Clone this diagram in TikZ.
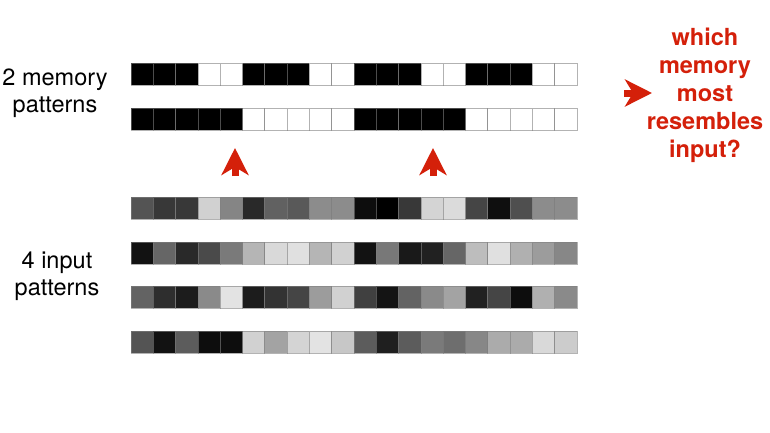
\documentclass[tikz,border=0pt]{standalone}
\usepackage{fontspec}
\setmainfont{TeX Gyre Heros}
\usepackage{xcolor}
\usetikzlibrary{arrows.meta,positioning}

\definecolor{alertred}{RGB}{212,32,10}

% one row of 20 cells, #1 = top edge, #2 = grey levels (0 black, 100 white)
\newcommand{\patternrow}[2]{%
  \foreach \g [count=\i from 0] in {#2}
    \filldraw[cell, fill=white!\g!black] ({131+\i*22.3},#1) rectangle ++(22.3,22);
}

\begin{document}
\begin{tikzpicture}[x=1pt,y=-1pt,
    cell/.style={draw=black!50, draw opacity=0.6, line width=0.8pt},
    sidelabel/.style={font=\fontsize{23.5}{27.5}\selectfont, align=center},
    question/.style={font=\bfseries\fontsize{23.5}{28}\selectfont, align=center, text=alertred},
    pointer/.style={alertred, line width=7, -{Stealth[length=27,width=27,inset=8]}}]
    \useasboundingbox (0,0) rectangle (770,432);

    % memory patterns
    \patternrow{63}{0,0,0,100,100,0,0,0,100,100,0,0,0,100,100,0,0,0,100,100}
    \patternrow{108}{0,0,0,0,0,100,100,100,100,100,0,0,0,0,0,100,100,100,100,100}

    % input patterns
    \patternrow{197}{33,22,22,82,52,16,38,35,55,55,5,0,22,83,86,27,6,31,55,55}
    \patternrow{242}{7,40,16,29,48,71,85,88,71,82,7,47,10,13,40,74,88,69,61,53}
    \patternrow{286}{39,18,11,54,89,11,20,27,61,82,25,8,39,54,64,13,27,5,69,54}
    \patternrow{331}{33,7,36,5,5,82,64,83,89,78,36,12,36,48,43,53,67,67,85,80}

    \node[sidelabel] (memlabel) at (55,93) {2 memory\\patterns};
    \node[sidelabel] (inlabel) at (57,276) {4 input\\patterns};
    \node[question] (query) at (705,95) {which\\memory\\most\\resembles\\input?};

    \coordinate (leftfoot) at (235,176);
    \coordinate (lefttip) at (235,148);
    \coordinate (rightfoot) at (433,176);
    \coordinate (righttip) at (433,148);
    \coordinate (queryfoot) at (624,93);
    \coordinate (querytip) at (652,93);
    \draw[pointer] (leftfoot) -- (lefttip);
    \draw[pointer] (rightfoot) -- (righttip);
    \draw[pointer] (queryfoot) -- (querytip);
\end{tikzpicture}
\end{document}
